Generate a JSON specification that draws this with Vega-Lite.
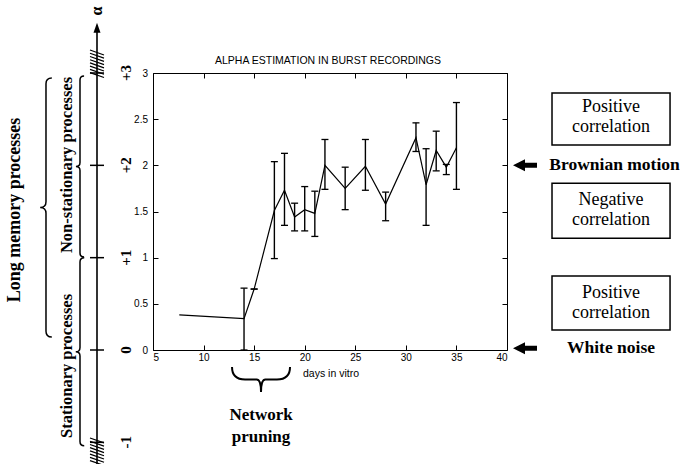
{
  "$schema": "https://vega.github.io/schema/vega-lite/v6.json",
  "width": 354,
  "height": 277,
  "autosize": {"type": "none"},
  "padding": {"left": 153, "top": 73, "right": 188, "bottom": 114},
  "background": "white",
  "config": {
    "view": {"stroke": "black", "strokeWidth": 1},
    "axis": {"grid": false, "domain": false, "tickColor": "black", "labelColor": "black", "labelFont": "Liberation Sans", "labelFontSize": 10, "tickSize": -5, "tickWidth": 1}
  },
  "datasets": {
    "alpha": [
      {"day": 7.6, "alpha": 0.38, "lo": null, "hi": null},
      {"day": 14, "alpha": 0.34, "lo": 0.0, "hi": 0.67},
      {"day": 15, "alpha": 0.66, "lo": 0.66, "hi": 0.66},
      {"day": 17, "alpha": 1.51, "lo": 0.99, "hi": 2.04},
      {"day": 18, "alpha": 1.73, "lo": 1.35, "hi": 2.13},
      {"day": 19, "alpha": 1.44, "lo": 1.29, "hi": 1.59},
      {"day": 20, "alpha": 1.52, "lo": 1.29, "hi": 1.77},
      {"day": 21, "alpha": 1.48, "lo": 1.23, "hi": 1.72},
      {"day": 22, "alpha": 2.0, "lo": 1.74, "hi": 2.28},
      {"day": 24, "alpha": 1.75, "lo": 1.52, "hi": 1.98},
      {"day": 26, "alpha": 1.99, "lo": 1.73, "hi": 2.28},
      {"day": 28, "alpha": 1.58, "lo": 1.40, "hi": 1.71},
      {"day": 31, "alpha": 2.30, "lo": 2.15, "hi": 2.46},
      {"day": 32, "alpha": 1.79, "lo": 1.35, "hi": 2.18},
      {"day": 33, "alpha": 2.16, "lo": 1.94, "hi": 2.37},
      {"day": 34, "alpha": 1.98, "lo": 1.90, "hi": 2.01},
      {"day": 35, "alpha": 2.19, "lo": 1.74, "hi": 2.68}
    ],
    "alphaAxis": [
      {"a": 3, "lab": "+3"},
      {"a": 2, "lab": "+2"},
      {"a": 1, "lab": "+1"},
      {"a": 0, "lab": "0"},
      {"a": -1, "lab": "-1"}
    ]
  },
  "resolve": {"axis": {"x": "independent", "y": "independent"}},
  "layer": [
    {
      "data": {"name": "alpha"},
      "transform": [{"filter": "isValid(datum.lo)"}],
      "mark": {"type": "rule", "color": "black", "strokeWidth": 1.4},
      "encoding": {
        "x": {"field": "day", "type": "quantitative", "scale": {"domain": [5, 40], "nice": false, "zero": false},
              "axis": {"orient": "bottom", "values": [5, 10, 15, 20, 25, 30, 35, 40], "format": "d", "labelPadding": 7, "title": null}},
        "y": {"field": "lo", "type": "quantitative", "scale": {"domain": [0, 3], "nice": false, "zero": false},
              "axis": {"orient": "left", "values": [0, 0.5, 1, 1.5, 2, 2.5, 3], "format": "~g", "labelPadding": 10.5, "title": null}},
        "y2": {"field": "hi"}
      }
    },
    {
      "data": {"name": "alpha"},
      "transform": [{"filter": "isValid(datum.lo)"}],
      "mark": {"type": "tick", "orient": "horizontal", "size": 7, "thickness": 1.3, "color": "black", "opacity": 1},
      "encoding": {
        "x": {"field": "day", "type": "quantitative", "axis": null},
        "y": {"field": "lo", "type": "quantitative", "axis": null}
      }
    },
    {
      "data": {"name": "alpha"},
      "transform": [{"filter": "isValid(datum.hi)"}],
      "mark": {"type": "tick", "orient": "horizontal", "size": 7, "thickness": 1.3, "color": "black", "opacity": 1},
      "encoding": {
        "x": {"field": "day", "type": "quantitative", "axis": null},
        "y": {"field": "hi", "type": "quantitative", "axis": null}
      }
    },
    {
      "data": {"name": "alpha"},
      "mark": {"type": "line", "color": "black", "strokeWidth": 1.2},
      "encoding": {
        "x": {"field": "day", "type": "quantitative",
              "axis": {"orient": "top", "labels": false, "values": [5, 10, 15, 20, 25, 30, 35, 40], "title": null}},
        "y": {"field": "alpha", "type": "quantitative",
              "axis": {"orient": "right", "labels": false, "values": [0, 0.5, 1, 1.5, 2, 2.5, 3], "title": null}}
      }
    },
    {
      "data": {"values": [{}]},
      "mark": {"type": "text", "font": "Liberation Sans", "fontSize": 10.5, "align": "center", "baseline": "middle", "color": "black"},
      "encoding": {
        "x": {"datum": 22.3, "type": "quantitative", "axis": null},
        "y": {"datum": 3.13, "type": "quantitative", "axis": null},
        "text": {"value": "ALPHA ESTIMATION IN BURST RECORDINGS"}
      }
    },
    {
      "data": {"values": [{}]},
      "mark": {"type": "text", "font": "Liberation Sans", "fontSize": 10.5, "align": "center", "baseline": "middle", "color": "black"},
      "encoding": {
        "x": {"datum": 22.6, "type": "quantitative", "axis": null},
        "y": {"datum": -0.26, "type": "quantitative", "axis": null},
        "text": {"value": "days in vitro"}
      }
    },
    {
      "data": {"values": [{}]},
      "mark": {"type": "rule", "color": "black", "strokeWidth": 1.6},
      "encoding": {
        "x": {"datum": -0.537, "type": "quantitative", "axis": null},
        "y": {"datum": 3.47, "type": "quantitative", "axis": null},
        "y2": {"datum": -1.3}
      }
    },
    {
      "data": {"values": [{}]},
      "mark": {"type": "point", "shape": "M0,-1L0.7,1L-0.7,1Z", "size": 100, "filled": true, "color": "black", "opacity": 1, "strokeWidth": 0},
      "encoding": {
        "x": {"datum": -0.537, "type": "quantitative", "axis": null},
        "y": {"datum": 3.491, "type": "quantitative", "axis": null}
      }
    },
    {
      "data": {"values": [{}]},
      "mark": {"type": "text", "font": "Liberation Serif", "fontSize": 16, "fontWeight": "bold", "angle": 270, "align": "center", "baseline": "middle", "color": "black"},
      "encoding": {
        "x": {"datum": -0.537, "type": "quantitative", "axis": null},
        "y": {"datum": 3.672, "type": "quantitative", "axis": null},
        "text": {"value": "α"}
      }
    },
    {
      "data": {"name": "alphaAxis"},
      "mark": {"type": "point", "shape": "M-1,0L1,0", "size": 196, "filled": false, "color": "black", "opacity": 1, "strokeWidth": 1.5},
      "encoding": {
        "x": {"datum": -0.537, "type": "quantitative", "axis": null},
        "y": {"field": "a", "type": "quantitative", "axis": null}
      }
    },
    {
      "data": {"name": "alphaAxis"},
      "mark": {"type": "text", "font": "Liberation Serif", "fontSize": 15, "fontWeight": "bold", "angle": 270, "align": "center", "baseline": "middle", "color": "black"},
      "encoding": {
        "x": {"datum": 2.33, "type": "quantitative", "axis": null},
        "y": {"field": "a", "type": "quantitative", "axis": null},
        "text": {"field": "lab"}
      }
    },
    {
      "data": {"values": [{}]},
      "mark": {"type": "point", "shape": "M-0.5,-1L0.5,-0.65M-0.5,-0.77L0.5,-0.42M-0.5,-0.54L0.5,-0.19M-0.5,-0.31L0.5,0.04M-0.5,-0.08L0.5,0.27M-0.5,0.15L0.5,0.5M-0.5,0.38L0.5,0.73M-0.5,0.61L0.5,0.96", "size": 784, "filled": false, "color": "black", "opacity": 1, "strokeWidth": 1.2},
      "encoding": {
        "x": {"datum": -0.537, "type": "quantitative", "axis": null},
        "y": {"datum": 3.097, "type": "quantitative", "axis": null}
      }
    },
    {
      "data": {"values": [{}]},
      "mark": {"type": "point", "shape": "M-0.5,-1L0.5,-0.65M-0.5,-0.77L0.5,-0.42M-0.5,-0.54L0.5,-0.19M-0.5,-0.31L0.5,0.04M-0.5,-0.08L0.5,0.27M-0.5,0.15L0.5,0.5M-0.5,0.38L0.5,0.73M-0.5,0.61L0.5,0.96", "size": 784, "filled": false, "color": "black", "opacity": 1, "strokeWidth": 1.2},
      "encoding": {
        "x": {"datum": -0.537, "type": "quantitative", "axis": null},
        "y": {"datum": -1.105, "type": "quantitative", "axis": null}
      }
    },
    {
      "data": {"values": [{}]},
      "mark": {"type": "point", "shape": "M0.045,-1Q0,-1 0,-0.955L0,-0.045Q0,0 -0.045,0Q0,0 0,0.045L0,0.955Q0,1 0.045,1", "size": 67081, "filled": false, "color": "black", "opacity": 1, "strokeWidth": 1.5},
      "encoding": {
        "x": {"datum": -5.58, "type": "quantitative", "axis": null},
        "y": {"datum": 1.543, "type": "quantitative", "axis": null}
      }
    },
    {
      "data": {"values": [{}]},
      "mark": {"type": "point", "shape": "M0.045,-1Q0,-1 0,-0.955L0,-0.045Q0,0 -0.045,0Q0,0 0,0.045L0,0.955Q0,1 0.045,1", "size": 32761, "filled": false, "color": "black", "opacity": 1, "strokeWidth": 1.5},
      "encoding": {
        "x": {"datum": -2.218, "type": "quantitative", "axis": null},
        "y": {"datum": 1.987, "type": "quantitative", "axis": null}
      }
    },
    {
      "data": {"values": [{}]},
      "mark": {"type": "point", "shape": "M0.045,-1Q0,-1 0,-0.955L0,-0.045Q0,0 -0.045,0Q0,0 0,0.045L0,0.955Q0,1 0.045,1", "size": 35344, "filled": false, "color": "black", "opacity": 1, "strokeWidth": 1.5},
      "encoding": {
        "x": {"datum": -2.218, "type": "quantitative", "axis": null},
        "y": {"datum": -0.02, "type": "quantitative", "axis": null}
      }
    },
    {
      "data": {"values": [{}]},
      "mark": {"type": "text", "font": "Liberation Serif", "fontSize": 18, "fontWeight": "bold", "angle": 270, "align": "center", "baseline": "middle", "color": "black"},
      "encoding": {
        "x": {"datum": -8.645, "type": "quantitative", "axis": null},
        "y": {"datum": 1.516, "type": "quantitative", "axis": null},
        "text": {"value": "Long memory processes"}
      }
    },
    {
      "data": {"values": [{}]},
      "mark": {"type": "text", "font": "Liberation Serif", "fontSize": 16.5, "fontWeight": "bold", "angle": 270, "align": "center", "baseline": "middle", "color": "black"},
      "encoding": {
        "x": {"datum": -3.503, "type": "quantitative", "axis": null},
        "y": {"datum": 2.004, "type": "quantitative", "axis": null},
        "text": {"value": "Non-stationary processes"}
      }
    },
    {
      "data": {"values": [{}]},
      "mark": {"type": "text", "font": "Liberation Serif", "fontSize": 16.5, "fontWeight": "bold", "angle": 270, "align": "center", "baseline": "middle", "color": "black"},
      "encoding": {
        "x": {"datum": -3.503, "type": "quantitative", "axis": null},
        "y": {"datum": -0.173, "type": "quantitative", "axis": null},
        "text": {"value": "Stationary processes"}
      }
    },
    {
      "data": {"values": [{}]},
      "mark": {"type": "point", "shape": "M-1,-0.43Q-1,0 -0.55,0L-0.15,0Q0,0 0,0.43Q0,0 0.15,0L0.55,0Q1,0 1,-0.43", "size": 3364, "filled": false, "color": "black", "opacity": 1, "strokeWidth": 2},
      "encoding": {
        "x": {"datum": 15.68, "type": "quantitative", "axis": null},
        "y": {"datum": -0.3195, "type": "quantitative", "axis": null}
      }
    },
    {
      "data": {"values": [{}]},
      "mark": {"type": "text", "font": "Liberation Serif", "fontSize": 17, "fontWeight": "bold", "lineHeight": 22, "align": "center", "baseline": "middle", "color": "black"},
      "encoding": {
        "x": {"datum": 15.68, "type": "quantitative", "axis": null},
        "y": {"datum": -0.704, "type": "quantitative", "axis": null},
        "text": {"value": ["Network", "pruning"]}
      }
    },
    {
      "data": {"values": [{}]},
      "mark": {"type": "rect", "fillOpacity": 0, "stroke": "black", "strokeWidth": 1.5},
      "encoding": {
        "x": {"datum": 44.45, "type": "quantitative", "axis": null},
        "x2": {"datum": 56.12},
        "y": {"datum": 2.783, "type": "quantitative", "axis": null},
        "y2": {"datum": 2.22}
      }
    },
    {
      "data": {"values": [{}]},
      "mark": {"type": "rect", "fillOpacity": 0, "stroke": "black", "strokeWidth": 1.5},
      "encoding": {
        "x": {"datum": 44.45, "type": "quantitative", "axis": null},
        "x2": {"datum": 56.12},
        "y": {"datum": 1.805, "type": "quantitative", "axis": null},
        "y2": {"datum": 1.209}
      }
    },
    {
      "data": {"values": [{}]},
      "mark": {"type": "rect", "fillOpacity": 0, "stroke": "black", "strokeWidth": 1.5},
      "encoding": {
        "x": {"datum": 44.45, "type": "quantitative", "axis": null},
        "x2": {"datum": 56.12},
        "y": {"datum": 0.801, "type": "quantitative", "axis": null},
        "y2": {"datum": 0.217}
      }
    },
    {
      "data": {"values": [{}]},
      "mark": {"type": "text", "font": "Liberation Serif", "fontSize": 18, "lineHeight": 20, "align": "center", "baseline": "middle", "color": "black"},
      "encoding": {
        "x": {"datum": 50.28, "type": "quantitative", "axis": null},
        "y": {"datum": 2.632, "type": "quantitative", "axis": null},
        "text": {"value": ["Positive", "correlation"]}
      }
    },
    {
      "data": {"values": [{}]},
      "mark": {"type": "text", "font": "Liberation Serif", "fontSize": 18, "lineHeight": 20, "align": "center", "baseline": "middle", "color": "black"},
      "encoding": {
        "x": {"datum": 50.28, "type": "quantitative", "axis": null},
        "y": {"datum": 1.624, "type": "quantitative", "axis": null},
        "text": {"value": ["Negative", "correlation"]}
      }
    },
    {
      "data": {"values": [{}]},
      "mark": {"type": "text", "font": "Liberation Serif", "fontSize": 18, "lineHeight": 20, "align": "center", "baseline": "middle", "color": "black"},
      "encoding": {
        "x": {"datum": 50.28, "type": "quantitative", "axis": null},
        "y": {"datum": 0.622, "type": "quantitative", "axis": null},
        "text": {"value": ["Positive", "correlation"]}
      }
    },
    {
      "data": {"values": [{}]},
      "mark": {"type": "point", "shape": "M-1,0L0,-0.5L0,-0.21L1,-0.21L1,0.21L0,0.21L0,0.5Z", "size": 576, "filled": true, "color": "black", "opacity": 1, "strokeWidth": 0},
      "encoding": {
        "x": {"datum": 41.78, "type": "quantitative", "axis": null},
        "y": {"datum": 2.0, "type": "quantitative", "axis": null}
      }
    },
    {
      "data": {"values": [{}]},
      "mark": {"type": "point", "shape": "M-1,0L0,-0.5L0,-0.21L1,-0.21L1,0.21L0,0.21L0,0.5Z", "size": 576, "filled": true, "color": "black", "opacity": 1, "strokeWidth": 0},
      "encoding": {
        "x": {"datum": 41.78, "type": "quantitative", "axis": null},
        "y": {"datum": 0.02, "type": "quantitative", "axis": null}
      }
    },
    {
      "data": {"values": [{}]},
      "mark": {"type": "text", "font": "Liberation Serif", "fontSize": 17.5, "fontWeight": "bold", "align": "center", "baseline": "middle", "color": "black"},
      "encoding": {
        "x": {"datum": 50.63, "type": "quantitative", "axis": null},
        "y": {"datum": 2.0, "type": "quantitative", "axis": null},
        "text": {"value": "Brownian motion"}
      }
    },
    {
      "data": {"values": [{}]},
      "mark": {"type": "text", "font": "Liberation Serif", "fontSize": 17.5, "fontWeight": "bold", "align": "center", "baseline": "middle", "color": "black"},
      "encoding": {
        "x": {"datum": 50.28, "type": "quantitative", "axis": null},
        "y": {"datum": 0.02, "type": "quantitative", "axis": null},
        "text": {"value": "White noise"}
      }
    }
  ]
}
